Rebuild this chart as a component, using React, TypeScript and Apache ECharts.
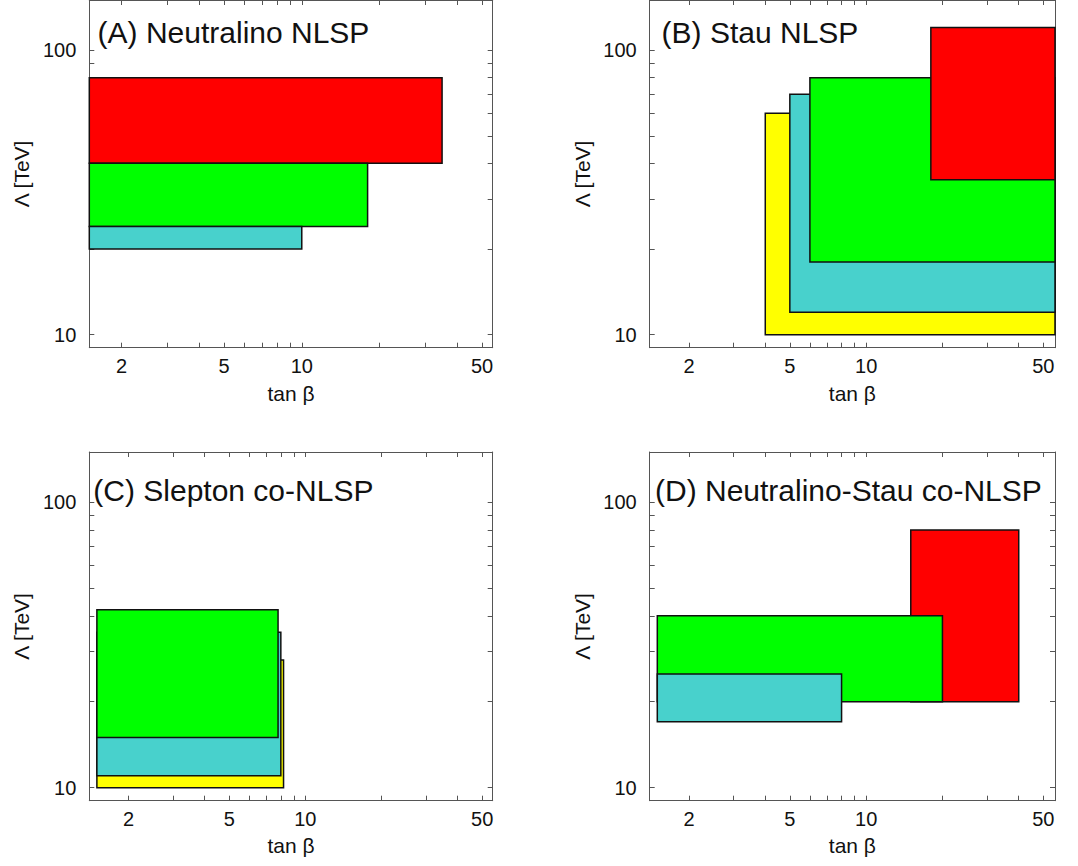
import React, { useEffect, useRef } from 'react';
import * as echarts from 'echarts';

// ---- Data (tan beta ranges and Lambda [TeV] ranges of each region) ----
const tanBetaTicks = [2, 3, 4, 5, 6, 7, 8, 9, 10, 20, 30, 40, 50];
const tanBetaLabels = [2, 5, 10, 50];
const lambdaTicks = [10, 20, 30, 40, 50, 60, 70, 80, 90, 100];
const lambdaLabels = [10, 100];

const panelTitles = [
  '(A) Neutralino NLSP',
  '(B) Stau NLSP',
  '(C) Slepton co-NLSP',
  '(D) Neutralino-Stau co-NLSP',
];

const neutralinoRegions = ['red', 'green', 'cyan'];
const neutralinoTanBeta = [[1.5, 35], [1.5, 18], [1.5, 10]];
const neutralinoLambda = [[40, 80], [24, 40], [20, 24]];

const stauRegions = ['yellow', 'cyan', 'green', 'red'];
const stauTanBeta = [[4, 60], [5, 60], [6, 60], [18, 60]];
const stauLambda = [[10, 60], [12, 70], [18, 80], [35, 120]];

const sleptonRegions = ['yellow', 'cyan', 'green'];
const sleptonTanBeta = [[1.5, 8.2], [1.5, 8.0], [1.5, 7.8]];
const sleptonLambda = [[10, 28], [11, 35], [15, 42]];

const coNlspRegions = ['red', 'green', 'cyan'];
const coNlspTanBeta = [[15, 40], [1.5, 20], [1.5, 8]];
const coNlspLambda = [[20, 80], [20, 40], [17, 25]];

// axis ranges per panel
const tanBetaRanges = [[1.5, 55], [1.4, 55.6], [1.4, 55], [1.4, 55.6]];
const lambdaRange = [9, 150];

// ---- Styles / layout ----
const regionColors: Record<string, string> = {
  red: '#ff0000',
  green: '#00ff00',
  cyan: '#48d1cc',
  yellow: '#ffff00',
};
const FONT = '"Liberation Sans", Arial, Helvetica, sans-serif';
const AXIS_COLOR = '#555';
const TEXT_COLOR = '#111';

const grids = [
  { left: 89.3, top: -1.4, width: 403.4, height: 349.1 },
  { left: 649.7, top: -1.4, width: 405.3, height: 349.1 },
  { left: 89.3, top: 452, width: 403.4, height: 348.7 },
  { left: 649.7, top: 452, width: 405.3, height: 348.7 },
];
const titlePos = [
  { left: 97.6, top: 17.3 },
  { left: 661.6, top: 17.3 },
  { left: 93.3, top: 475.6 },
  { left: 655, top: 475.6 },
];
const xNameGaps = [35, 35, 34, 34];

const panels = [
  { regions: neutralinoRegions, tb: neutralinoTanBeta, lam: neutralinoLambda },
  { regions: stauRegions, tb: stauTanBeta, lam: stauLambda },
  { regions: sleptonRegions, tb: sleptonTanBeta, lam: sleptonLambda },
  { regions: coNlspRegions, tb: coNlspTanBeta, lam: coNlspLambda },
];

const lg = (v: number) => Math.log10(v);
const fmt = (v: number) => String(Math.round(Math.pow(10, v)));

function buildOption() {
  const xAxis: any[] = [];
  const yAxis: any[] = [];
  const series: any[] = [];
  const title: any[] = [];

  panels.forEach((p, i) => {
    const [xmin, xmax] = tanBetaRanges[i];
    const [ymin, ymax] = lambdaRange;
    const tickStyle = { show: true, inside: true, length: 5, lineStyle: { color: AXIS_COLOR, width: 1 } };
    const lineStyle = { show: true, lineStyle: { color: AXIS_COLOR, width: 1 } };
    // log axes used by data
    xAxis.push({ type: 'log', logBase: 10, gridIndex: i, min: xmin, max: xmax, show: false, position: 'bottom' });
    xAxis.push({
      type: 'value', gridIndex: i, position: 'bottom', min: lg(xmin), max: lg(xmax),
      axisLine: lineStyle,
      axisTick: { ...tickStyle, customValues: tanBetaTicks.map(lg) },
      axisLabel: { show: true, customValues: tanBetaLabels.map(lg), formatter: fmt, margin: 8, fontSize: 20, color: TEXT_COLOR, fontFamily: FONT },
      splitLine: { show: false },
      name: 'tan β', nameLocation: 'middle', nameGap: xNameGaps[i],
      nameTextStyle: { fontSize: 21, color: TEXT_COLOR, fontFamily: FONT },
    });
    xAxis.push({
      type: 'value', gridIndex: i, position: 'top', min: lg(xmin), max: lg(xmax),
      axisLine: lineStyle,
      axisTick: { ...tickStyle, customValues: tanBetaTicks.map(lg) },
      axisLabel: { show: false },
      splitLine: { show: false },
    });
    yAxis.push({ type: 'log', logBase: 10, gridIndex: i, min: ymin, max: ymax, show: false, position: 'left' });
    yAxis.push({
      type: 'value', gridIndex: i, position: 'left', min: lg(ymin), max: lg(ymax),
      axisLine: lineStyle,
      axisTick: { ...tickStyle, customValues: lambdaTicks.map(lg) },
      axisLabel: { show: true, customValues: lambdaLabels.map(lg), formatter: fmt, margin: 13, fontSize: 20, color: TEXT_COLOR, fontFamily: FONT },
      splitLine: { show: false },
      name: 'Λ [TeV]', nameLocation: 'middle', nameGap: 57,
      nameTextStyle: { fontSize: 21, color: TEXT_COLOR, fontFamily: FONT },
    });
    yAxis.push({
      type: 'value', gridIndex: i, position: 'right', min: lg(ymin), max: lg(ymax),
      axisLine: lineStyle,
      axisTick: { ...tickStyle, customValues: lambdaTicks.map(lg) },
      axisLabel: { show: false },
      splitLine: { show: false },
    });

    const data = p.tb.map((tb, k) => [tb[0], tb[1], p.lam[k][0], p.lam[k][1]]);
    const regions = p.regions;
    series.push({
      type: 'custom',
      xAxisIndex: i * 3,
      yAxisIndex: i * 3,
      encode: { x: [0, 1], y: [2, 3] },
      data,
      z: 5,
      renderItem: (params: any, api: any) => {
        const x0 = api.value(0), x1 = api.value(1), y0 = api.value(2), y1 = api.value(3);
        const a = api.coord([x0, y1]);
        const b = api.coord([x1, y0]);
        const cs = params.coordSys;
        const shape = echarts.graphic.clipRectByRect(
          { x: a[0], y: a[1], width: b[0] - a[0], height: b[1] - a[1] },
          { x: cs.x, y: cs.y, width: cs.width, height: cs.height }
        );
        if (!shape) return null;
        return {
          type: 'rect',
          shape,
          style: { fill: regionColors[regions[params.dataIndex]], stroke: '#111', lineWidth: 1.5 },
        };
      },
    });

    title.push({
      text: panelTitles[i],
      left: titlePos[i].left,
      top: titlePos[i].top,
      padding: 0,
      z: 10,
      textStyle: { fontSize: 30, fontWeight: 'normal', color: TEXT_COLOR, fontFamily: FONT },
    });
  });

  return {
    animation: false,
    backgroundColor: '#ffffff',
    title,
    grid: grids.map((g) => ({ ...g, containLabel: false })),
    xAxis,
    yAxis,
    series,
  };
}

export default function App() {
  const ref = useRef<HTMLDivElement>(null);
  useEffect(() => {
    if (!ref.current) return;
    const chart = echarts.init(ref.current, null, { renderer: 'svg' });
    chart.setOption(buildOption() as any);
    return () => chart.dispose();
  }, []);
  return (
    <div
      ref={ref}
      style={{ position: 'absolute', left: 0, top: 0, width: 1078, height: 866, background: '#fff' }}
    />
  );
}
